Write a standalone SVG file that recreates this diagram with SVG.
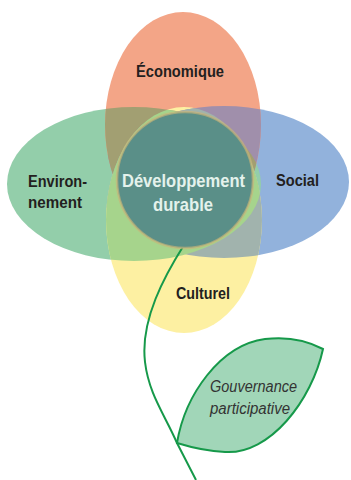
<svg xmlns="http://www.w3.org/2000/svg" width="351" height="480" viewBox="0 0 351 480">
<defs>
<style>
.lbl{font-family:"Liberation Sans",Arial,sans-serif;font-weight:bold;font-size:17px;fill:#231f20;text-anchor:middle}
.ctr{fill:#e4f2ec;font-size:19px}
.gov{font-family:"Liberation Sans",Arial,sans-serif;font-style:italic;font-size:16px;fill:#333;text-anchor:middle}
.stem{fill:none;stroke:#16994a;stroke-width:2}
</style>
<ellipse id="eTop" cx="183" cy="125" rx="78" ry="113"/>
<ellipse id="eBot" cx="184" cy="220" rx="78" ry="113"/>
<ellipse id="eLeft" cx="134" cy="184" rx="127" ry="77"/>
<ellipse id="eRight" cx="224" cy="182" rx="125" ry="76"/>
<clipPath id="cTop"><use href="#eTop"/></clipPath>
<clipPath id="cBot"><use href="#eBot"/></clipPath>
</defs>
<rect width="351" height="480" fill="#ffffff"/>
<g id="petals">
<use href="#eRight" fill="#92b2dc"/>
<use href="#eLeft" fill="#93ceaa"/>
<use href="#eTop" fill="#f3a587"/>
<use href="#eBot" fill="#fdf0a2"/>
<g clip-path="url(#cTop)">
<use href="#eRight" fill="#a08fab"/>
<use href="#eLeft" fill="#a29f72"/>
</g>
<g clip-path="url(#cBot)">
<use href="#eRight" fill="#a1b3ad"/>
<use href="#eLeft" fill="#a6d48c"/>
</g>
</g>
<g id="connectors">
<path class="stem" d="M184,245 C165,275 140,320 145,362 C149,395 165,415 177,443 L196,480"/>
</g>
<g id="center">
<circle cx="185" cy="180" r="68" fill="#5a8f88" stroke="#c9b478" stroke-opacity="0.65" stroke-width="2.5"/>
<text class="lbl ctr" x="183.5" y="187" textLength="123" lengthAdjust="spacingAndGlyphs">Développement</text>
<text class="lbl ctr" x="183" y="211" textLength="60" lengthAdjust="spacingAndGlyphs">durable</text>
</g>
<g id="economique"><text class="lbl" x="180" y="77" textLength="88" lengthAdjust="spacingAndGlyphs">Économique</text></g>
<g id="environnement"><text class="lbl" x="57.5" y="187" textLength="59" lengthAdjust="spacingAndGlyphs">Environ-</text><text class="lbl" x="55" y="208" textLength="54" lengthAdjust="spacingAndGlyphs">nement</text></g>
<g id="social"><text class="lbl" x="297.5" y="186" textLength="43" lengthAdjust="spacingAndGlyphs">Social</text></g>
<g id="culturel"><text class="lbl" x="203" y="299" textLength="54" lengthAdjust="spacingAndGlyphs">Culturel</text></g>
<g id="gouvernance">
<path d="M177,443 C185,395 220,345 265,339 C290,336 310,342 323,349 C312,400 270,455 225,452 C205,451 190,447 177,443 Z" fill="#a1d6b8" stroke="#16994a" stroke-width="2"/>
<text class="gov" x="253.5" y="392" textLength="87" lengthAdjust="spacingAndGlyphs">Gouvernance</text>
<text class="gov" x="250" y="414" textLength="80" lengthAdjust="spacingAndGlyphs">participative</text>
</g>
</svg>
